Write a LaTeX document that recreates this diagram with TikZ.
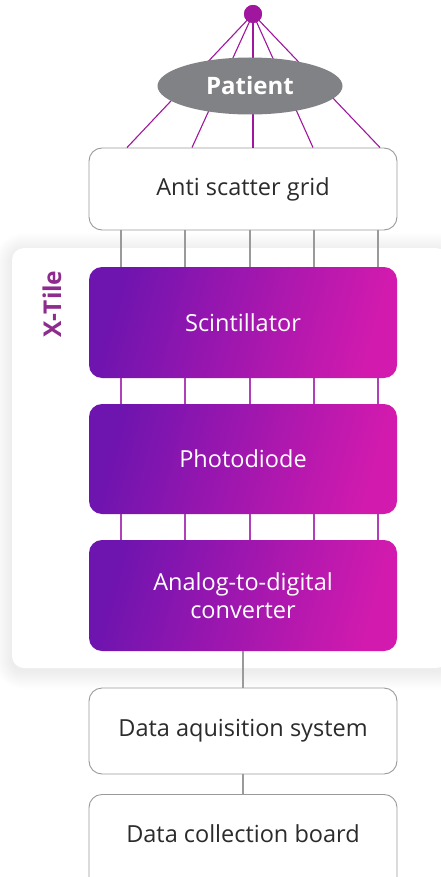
\documentclass[tikz,border=0pt]{standalone}
\usepackage{fontspec}
\setmainfont{Open Sans}
\usetikzlibrary{shapes.geometric}
\definecolor{gL}{HTML}{6E14AF}
\definecolor{gR}{HTML}{D31AAE}
\definecolor{fan}{HTML}{A0169E}
\definecolor{plink}{HTML}{B040B8}
\definecolor{glink}{HTML}{9A9A9A}
\definecolor{pgray}{HTML}{808285}
\definecolor{txt}{HTML}{2B2B2B}
\definecolor{xtile}{HTML}{8E2C8E}
\tikzset{
  whitebox/.style={draw=glink, line width=0.9pt, rounded corners=13pt, fill=white,
    minimum width=308pt, inner sep=0pt, text=txt, font=\fontsize{23.5}{28}\selectfont, align=center},
  purplebox/.style={rounded corners=13pt, left color=gL, right color=gR, shading angle=75,
    minimum width=308pt, minimum height=111pt, inner sep=0pt, text=white,
    font=\fontsize{23.5}{28}\selectfont, align=center},
  fanline/.style={draw=fan, line width=1.1pt},
  plinkline/.style={draw=plink, line width=1.1pt},
  glinkline/.style={draw=glink, line width=1.1pt},
  softshadow/.style={fill=black, opacity=0.0055},
}
\begin{document}
\begin{tikzpicture}[x=1pt,y=-1pt]
\clip (0,0) rectangle (441,877);
\fill[white] (0,0) rectangle (441,877);
% X-Tile panel with soft shadow
\foreach \i in {1,...,18}{
  \fill[softshadow, rounded corners={12pt+\i pt}] ({12-\i},{251-\i}) rectangle ({448+\i},{671+\i});
}
\node[draw=none, fill=white, rounded corners=12pt, minimum width=436pt, minimum height=420pt,
  inner sep=0pt] (panel) at (230,458) {};
\node[rotate=90, text=xtile, font=\bfseries\fontsize{24.5}{28}\selectfont] (xt) at (52,304) {X-Tile};
% nodes
\node[whitebox, minimum height=82pt] (grid) at (243,189) {Anti scatter grid};
\node[purplebox] (scint) at (243,322.5) {Scintillator};
\node[purplebox, minimum height=110pt] (photo) at (243,459) {Photodiode};
\node[purplebox] (adc) at (243,595.5) {Analog-to-digital\\converter};
\node[whitebox, minimum height=86pt] (das) at (243,731) {Data aquisition system};
\node[whitebox, minimum height=100pt, anchor=north] (dcb) at (243,794) {};
\node[text=txt, font=\fontsize{23.5}{28}\selectfont] (dcbt) at (243,834) {Data collection board};
% fan
\node[circle, fill=fan, minimum size=18pt, inner sep=0pt] (dot) at (253,14) {};
\foreach \x in {127,192,253,313,380}{
  \draw[fanline] (dot.center) -- (\x,0 |- grid.north);
}
\node[ellipse, fill=pgray, minimum width=185pt, minimum height=57pt, inner sep=0pt,
  text=white, font=\bfseries\fontsize{24}{28}\selectfont] (patient) at (250,86) {Patient};
\node[circle, fill=fan, minimum size=18pt, inner sep=0pt] at (dot) {};
% links
\foreach \x in {121,185,250,314,378}{
  \draw[glinkline] (\x,0 |- grid.south) -- (\x,0 |- scint.north);
  \draw[plinkline] (\x,0 |- scint.south) -- (\x,0 |- photo.north);
  \draw[plinkline] (\x,0 |- photo.south) -- (\x,0 |- adc.north);
}
\draw[glinkline] (adc.south) -- (das.north);
\draw[glinkline] (das.south) -- (dcb.north);
\end{tikzpicture}
\end{document}
